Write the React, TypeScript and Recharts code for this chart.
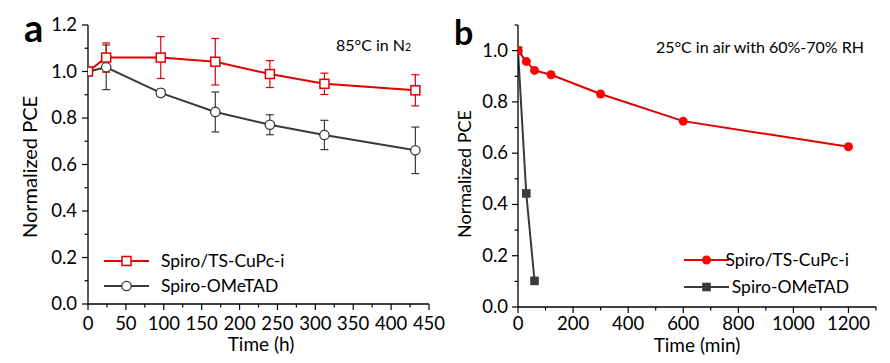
import { LineChart, Line, XAxis, YAxis, ErrorBar, Legend, Label } from 'recharts';

const FONT = 'Lato, "Open Sans", sans-serif';
const RED = '#e00000';
const DARK = '#3a3a3a';

// panel a: 85°C in N2, time in hours
const hoursA = [0, 24, 96, 168, 240, 312, 432];
const cupcA = [1.0, 1.06, 1.06, 1.042, 0.989, 0.947, 0.919];
const cupcErrA = [0, 0.063, 0.09, 0.1, 0.058, 0.046, 0.067];
const spiroA = [1.0, 1.018, 0.908, 0.826, 0.771, 0.727, 0.661];
const spiroErrA = [0, 0.096, 0.015, 0.086, 0.043, 0.063, 0.1];
const xTicksA = [0, 25, 50, 75, 100, 125, 150, 175, 200, 225, 250, 275, 300, 325, 350, 375, 400, 425, 450];
const yTicksA = [0, 0.1, 0.2, 0.3, 0.4, 0.5, 0.6, 0.7, 0.8, 0.9, 1.0, 1.1, 1.2];

// panel b: 25°C in air, time in minutes
const minutesB = [0, 30, 60, 120, 300, 600, 1200];
const cupcB = [1.0, 0.958, 0.923, 0.906, 0.831, 0.725, 0.625];
const minutesSpiroB = [0, 30, 60];
const spiroB = [1.0, 0.443, 0.102];
const xTicksB = [0, 100, 200, 300, 400, 500, 600, 700, 800, 900, 1000, 1100, 1200, 1300];
const yTicksB = [0, 0.1, 0.2, 0.3, 0.4, 0.5, 0.6, 0.7, 0.8, 0.9, 1.0, 1.1];

const seriesNames = ['Spiro/TS-CuPc-i', 'Spiro-OMeTAD'];

const dataA = hoursA.map((h, i) => ({
    h,
    cupc: cupcA[i],
    cupcErr: cupcErrA[i],
    spiro: spiroA[i],
    spiroErr: spiroErrA[i],
}));
const dataCupcB = minutesB.map((m, i) => ({ m, v: cupcB[i] }));
const dataSpiroB = minutesSpiroB.map((m, i) => ({ m, v: spiroB[i] }));

const axisLine = { stroke: '#000', strokeWidth: 1.3 };

function bottomTick(isMajor: (v: number) => boolean, dy: number) {
    return (p: any) => {
        const major = isMajor(p.payload.value);
        return (
            <g key={`bx-${p.index}`}>
                <line x1={p.x} y1={p.y} x2={p.x} y2={p.y + (major ? 6 : 3.5)} stroke="#000" strokeWidth={1.2} />
                {major && (
                    <text x={p.x} y={p.y + dy} textAnchor="middle" fontSize={18.5} fontFamily={FONT} fill="#000">
                        {p.payload.value}
                    </text>
                )}
            </g>
        );
    };
}

function leftTick(gap: number) {
    return (p: any) => {
        const v = p.payload.value;
        const major = Math.round(v * 10) % 2 === 0;
        return (
            <g key={`ly-${p.index}`}>
                <line x1={p.x - (major ? 6 : 3.5)} y1={p.y} x2={p.x} y2={p.y} stroke="#000" strokeWidth={1.2} />
                {major && (
                    <text x={p.x - gap} y={p.y + 6} textAnchor="end" fontSize={18.5} fontFamily={FONT} fill="#000">
                        {v.toFixed(1)}
                    </text>
                )}
            </g>
        );
    };
}

const openSquare = (p: any) => (
    <rect key={`sq-${p.index}`} x={p.cx - 4.5} y={p.cy - 4.5} width={9} height={9} fill="#fff" stroke={RED} strokeWidth={1.5} />
);
const openCircle = (p: any) => (
    <circle key={`oc-${p.index}`} cx={p.cx} cy={p.cy} r={4.7} fill="#fff" stroke={DARK} strokeWidth={1.3} />
);
const filledCircle = (p: any) => (
    <circle key={`fc-${p.index}`} cx={p.cx} cy={p.cy} r={4.5} fill="#ff0000" stroke="none" />
);
const filledSquare = (p: any) => (
    <rect key={`fs-${p.index}`} x={p.cx - 4.3} y={p.cy - 4.3} width={8.6} height={8.6} fill={DARK} stroke="none" />
);

function LegendA() {
    return (
        <svg width={200} height={50}>
            <line x1={4} y1={11} x2={49} y2={11} stroke={RED} strokeWidth={2} />
            <rect x={22} y={6.5} width={9} height={9} fill="#fff" stroke={RED} strokeWidth={1.5} />
            <text x={61} y={17} fontSize={17.5} fontFamily={FONT}>{seriesNames[0]}</text>
            <line x1={4} y1={36} x2={49} y2={36} stroke={DARK} strokeWidth={2} />
            <circle cx={26.5} cy={36} r={4.7} fill="#fff" stroke={DARK} strokeWidth={1.3} />
            <text x={61} y={42} fontSize={17.5} fontFamily={FONT}>{seriesNames[1]}</text>
        </svg>
    );
}

function LegendB() {
    return (
        <svg width={180} height={52}>
            <line x1={4} y1={11} x2={49} y2={11} stroke={RED} strokeWidth={2} />
            <circle cx={26.5} cy={11} r={4.5} fill="#ff0000" />
            <text x={169} y={17} textAnchor="end" fontSize={17.5} fontFamily={FONT}>{seriesNames[0]}</text>
            <line x1={4} y1={38} x2={49} y2={38} stroke={DARK} strokeWidth={2} />
            <rect x={22.2} y={33.7} width={8.6} height={8.6} fill={DARK} />
            <text x={169} y={44} textAnchor="end" fontSize={17.5} fontFamily={FONT}>{seriesNames[1]}</text>
        </svg>
    );
}

// axis titles at fixed chart coordinates
const xTitle = (label: string, cx: number, baseline: number) => () => (
    <text x={cx} y={baseline} textAnchor="middle" fontSize={19} fontFamily={FONT} fill="#000">
        {label}
    </text>
);

const yTitle = (cx: number, cy: number, size: number) => () => (
    <text
        x={cx}
        y={cy}
        transform={`rotate(-90 ${cx} ${cy})`}
        textAnchor="middle"
        dominantBaseline="middle"
        fontSize={size}
        fontFamily={FONT}
        fill="#000"
    >
        Normalized PCE
    </text>
);

export default function App() {
    return (
        <div style={{ position: 'absolute', left: 0, top: 0, width: 890, height: 363, background: '#fff' }}>
            <div style={{ position: 'absolute', left: 0, top: 0 }}>
                <LineChart width={445} height={363} data={dataA} margin={{ top: 25, right: 16, bottom: 0, left: 0 }}>
                    <XAxis
                        dataKey="h"
                        type="number"
                        domain={[0, 450]}
                        ticks={xTicksA}
                        interval={0}
                        allowDataOverflow
                        height={59}
                        tickSize={0}
                        tickMargin={0}
                        tickLine={false}
                        axisLine={axisLine}
                        tick={bottomTick((v) => v % 50 === 0, 26)}
                    >
                        <Label content={xTitle('Time (h)', 261, 351)} />
                    </XAxis>
                    <YAxis
                        type="number"
                        domain={[0, 1.2]}
                        ticks={yTicksA}
                        interval={0}
                        width={88}
                        tickSize={0}
                        tickMargin={0}
                        tickLine={false}
                        axisLine={axisLine}
                        tick={leftTick(11)}
                    >
                        <Label content={yTitle(32, 167, 20)} />
                    </YAxis>
                    <XAxis xAxisId="top" orientation="top" type="number" domain={[0, 450]} height={0} tick={false} tickLine={false} axisLine={axisLine} />
                    <YAxis yAxisId="right" orientation="right" type="number" domain={[0, 1.2]} width={0} tick={false} tickLine={false} axisLine={axisLine} />
                    <Line dataKey="spiro" name={seriesNames[1]} stroke={DARK} strokeWidth={2} dot={openCircle} isAnimationActive={false}>
                        <ErrorBar dataKey="spiroErr" direction="y" width={4} stroke={DARK} strokeWidth={1.2} />
                    </Line>
                    <Line dataKey="cupc" name={seriesNames[0]} stroke={RED} strokeWidth={2} dot={openSquare} isAnimationActive={false}>
                        <ErrorBar dataKey="cupcErr" direction="y" width={4} stroke={RED} strokeWidth={1.2} />
                    </Line>
                    <Legend
                        layout="vertical"
                        align="center"
                        verticalAlign="middle"
                        content={<LegendA />}
                        wrapperStyle={{ position: 'absolute', left: 100, top: 250, width: 200, height: 50 }}
                    />
                </LineChart>
            </div>
            <div style={{ position: 'absolute', left: 445, top: 0 }}>
                <LineChart width={445} height={363} margin={{ top: 25, right: 14, bottom: 0, left: 0 }}>
                    <XAxis
                        dataKey="m"
                        type="number"
                        domain={[0, 1300]}
                        ticks={xTicksB}
                        interval={0}
                        allowDataOverflow
                        height={56}
                        tickSize={0}
                        tickMargin={0}
                        tickLine={false}
                        axisLine={axisLine}
                        tick={bottomTick((v) => v % 200 === 0 && v <= 1200, 23)}
                    >
                        <Label content={xTitle('Time (min)', 252, 351.5)} />
                    </XAxis>
                    <YAxis
                        type="number"
                        domain={[0, 1.1]}
                        ticks={yTicksB}
                        interval={0}
                        width={73}
                        tickSize={0}
                        tickMargin={0}
                        tickLine={false}
                        axisLine={axisLine}
                        tick={leftTick(10)}
                    >
                        <Label content={yTitle(21, 174, 18)} />
                    </YAxis>
                    <XAxis xAxisId="top" orientation="top" type="number" domain={[0, 1300]} height={0} tick={false} tickLine={false} axisLine={axisLine} />
                    <YAxis yAxisId="right" orientation="right" type="number" domain={[0, 1.1]} width={0} tick={false} tickLine={false} axisLine={axisLine} />
                    <Line data={dataSpiroB} dataKey="v" name={seriesNames[1]} stroke={DARK} strokeWidth={2} dot={filledSquare} isAnimationActive={false} />
                    <Line data={dataCupcB} dataKey="v" name={seriesNames[0]} stroke={RED} strokeWidth={2} dot={filledCircle} isAnimationActive={false} />
                    <Legend
                        layout="vertical"
                        align="center"
                        verticalAlign="middle"
                        content={<LegendB />}
                        wrapperStyle={{ position: 'absolute', left: 235, top: 249, width: 180, height: 52 }}
                    />
                </LineChart>
            </div>
            <svg width={890} height={363} style={{ position: 'absolute', left: 0, top: 0, pointerEvents: 'none' }}>
                <text x={24} y={42} fontSize={38} fontWeight="bold" fontFamily={FONT}>a</text>
                <text x={454} y={45} fontSize={34} fontWeight="bold" fontFamily={FONT}>b</text>
                <text x={336} y={51} fontSize={16} fontFamily={FONT}>
                    85°C in N<tspan fontSize={10.5}>2</tspan>
                </text>
                <text x={864} y={53} textAnchor="end" fontSize={16} fontFamily={FONT}>
                    25°C in air with 60%-70% RH
                </text>
            </svg>
        </div>
    );
}
